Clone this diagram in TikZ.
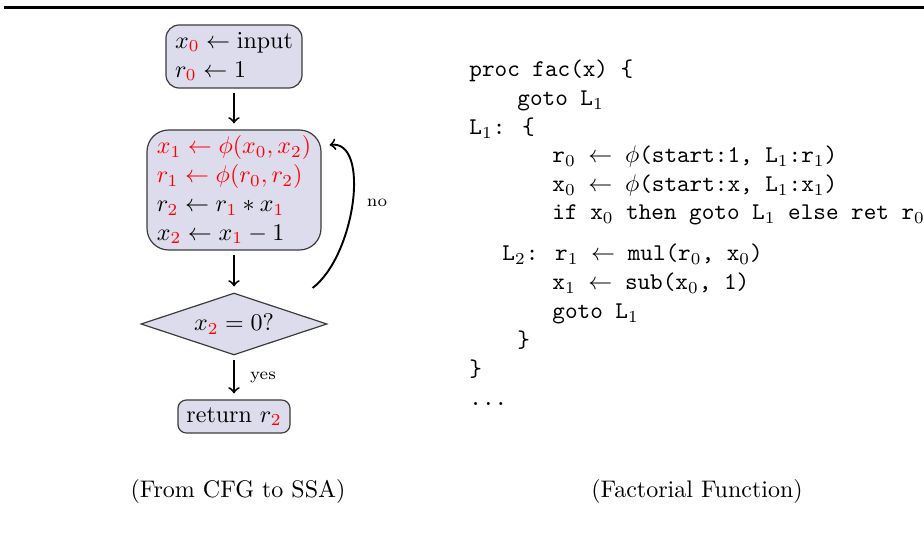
\documentclass[tikz,border=0pt]{standalone}
\usetikzlibrary{shapes.geometric,calc}
\definecolor{boxfill}{RGB}{220,220,236}
\definecolor{boxline}{RGB}{60,60,60}
\newcommand{\rd}[1]{\textcolor{red}{#1}}
\tikzset{
  block/.style={draw=boxline, fill=boxfill, line width=0.5pt, align=left, inner sep=2pt},
  decision/.style={draw=boxline, fill=boxfill, line width=0.5pt, shape=diamond, aspect=3, inner sep=0pt},
  flow/.style={->, thick, shorten <=2pt, shorten >=2.5pt},
  codeline/.style={anchor=base west, inner sep=0pt, font=\ttfamily},
  caption/.style={inner sep=0pt}
}
\begin{document}
\begin{tikzpicture}[x=0.41667pt, y=-0.41667pt]
  \useasboundingbox (0,0) rectangle (924,534);
  % top rule
  \draw[line width=1.1pt] (4,7.3) -- (924,7.3);

  % flow chart
  \node[block, rounded corners=5.5pt, minimum width=56.7pt, minimum height=26.25pt] (init) at (234,56.5)
    {$x_{\rd{0}} \leftarrow \mathrm{input}$\\ $r_{\rd{0}} \leftarrow 1$};
  \node[block, rounded corners=9pt, minimum width=72.5pt, minimum height=50pt] (loop) at (234,190)
    {\color{red}$x_1 \leftarrow \phi(x_0, x_2)$\\ \color{red}$r_1 \leftarrow \phi(r_0, r_2)$\\
     $r_{\rd{2}} \leftarrow r_{\rd{1}} * x_{\rd{1}}$\\ $x_{\rd{2}} \leftarrow x_{\rd{1}} - 1$};
  \node[decision, minimum width=77.5pt, minimum height=25.8pt] (test) at (234,324) {$x_{\rd{2}} = 0?$};
  \node[block, rounded corners=3.5pt, minimum width=46.7pt, minimum height=13.75pt] (ret) at (234,416.5)
    {return $r_{\rd{2}}$};

  \draw[flow] (init) -- (loop);
  \draw[flow] (loop) -- (test);
  \draw[flow] (test) -- node[right, font=\scriptsize, xshift=3pt] {yes} (ret);

  \coordinate (back) at ($(test.east)+(-15,-36)$);
  \draw[->, thick] (back) .. controls ($(back)+(43,-33)$) and ($(back)+(58,-148)$) .. ($(loop.east)+(8,-45)$);
  \node[font=\scriptsize] (no) at (377,203) {no};

  % SSA listing
  \node[codeline] (c1)  at (469,77)  {proc fac(x) \{};
  \node[codeline] (c2)  at (517,106) {goto L$_1$};
  \node[codeline] (c3)  at (469,135) {L$_1$: \{};
  \node[codeline] (c4)  at (552,163) {r$_0$ $\leftarrow$ $\phi$(start:1, L$_1$:r$_1$)};
  \node[codeline] (c5)  at (552,192) {x$_0$ $\leftarrow$ $\phi$(start:x, L$_1$:x$_1$)};
  \node[codeline] (c6)  at (552,220) {if x$_0$ then goto L$_1$ else ret r$_0$};
  \node[codeline] (c7)  at (502,261) {L$_2$: r$_1$ $\leftarrow$ mul(r$_0$, x$_0$)};
  \node[codeline] (c8)  at (552,290) {x$_1$ $\leftarrow$ sub(x$_0$, 1)};
  \node[codeline] (c9)  at (552,319) {goto L$_1$};
  \node[codeline] (c10) at (517,348) {\}};
  \node[codeline] (c11) at (469,377) {\}};
  \node[codeline] (c12) at (469,406) {...};

  % captions
  \node[caption] (capl) at (238,492) {(From CFG to SSA)};
  \node[caption] (capr) at (697,492) {(Factorial Function)};
\end{tikzpicture}
\end{document}
